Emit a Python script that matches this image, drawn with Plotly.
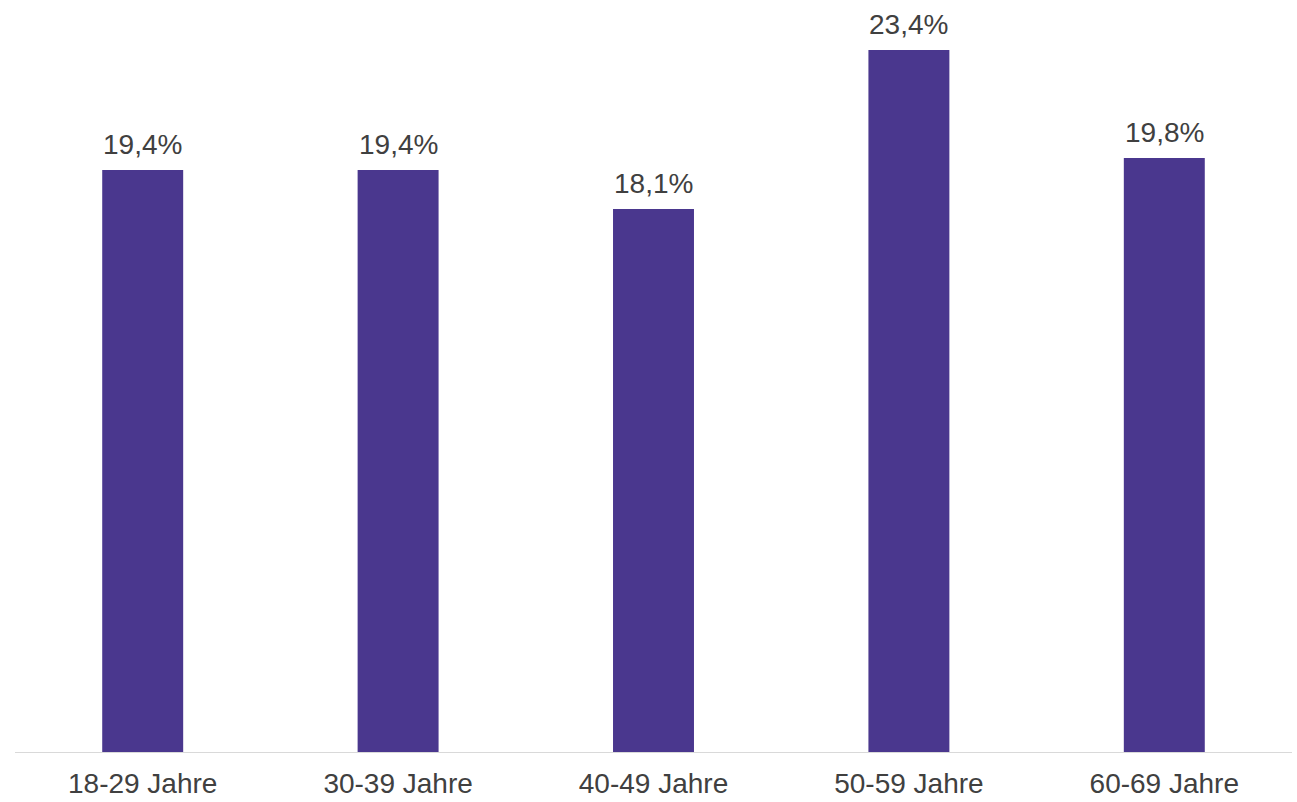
import plotly.graph_objects as go

categories = ["18-29 Jahre", "30-39 Jahre", "40-49 Jahre", "50-59 Jahre", "60-69 Jahre"]
values = [19.4, 19.4, 18.1, 23.4, 19.8]
labels = ["19,4%", "19,4%", "18,1%", "23,4%", "19,8%"]

BAR_COLOR = "#4a378e"
TEXT_COLOR = "#404040"
FONT = "Liberation Sans, Arial, sans-serif"

fig = go.Figure(
    go.Bar(
        x=categories,
        y=values,
        marker=dict(color=BAR_COLOR, line=dict(width=0)),
        hoverinfo="skip",
    )
)

for cat, val, lab in zip(categories, values, labels):
    fig.add_annotation(
        x=cat, y=val, text=lab, showarrow=False,
        yanchor="bottom", yshift=8,
        font=dict(family=FONT, size=28, color=TEXT_COLOR),
    )

fig.update_layout(
    width=1297, height=802,
    margin=dict(l=15, r=5, t=2, b=50),
    paper_bgcolor="white", plot_bgcolor="white",
    bargap=0.683,
    showlegend=False,
    font=dict(family=FONT, size=28, color=TEXT_COLOR),
)
fig.update_xaxes(
    showline=True, linecolor="#d9d9d9", linewidth=1,
    showgrid=False, zeroline=False,
    ticks="outside", ticklen=6, tickcolor="rgba(0,0,0,0)",
    tickfont=dict(family=FONT, size=28, color=TEXT_COLOR),
)
fig.update_yaxes(visible=False, range=[0, 25], showgrid=False, zeroline=False)

fig.write_html("out.html", config={"displayModeBar": False})
